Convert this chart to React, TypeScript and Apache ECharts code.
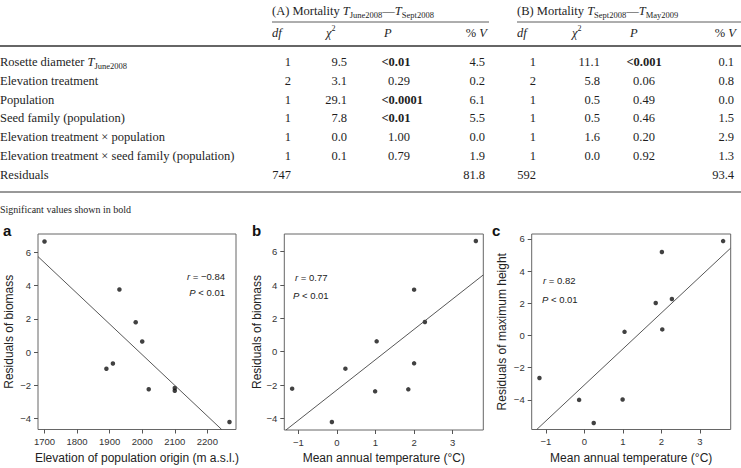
import React, { useEffect, useRef } from "react";
import * as echarts from "echarts";

// ---------- Table data ----------
const rowLabels = [
  "{n|Rosette diameter }{i|T}{s|June2008}",
  "{n|Elevation treatment}",
  "{n|Population}",
  "{n|Seed family (population)}",
  "{n|Elevation treatment × population}",
  "{n|Elevation treatment × seed family (population)}",
  "{n|Residuals}",
];
const dfA = ["1", "2", "1", "1", "1", "1", "747"];
const chiA = ["9.5", "3.1", "29.1", "7.8", "0.0", "0.1", ""];
const pA = ["<0.01", "0.29", "<0.0001", "<0.01", "1.00", "0.79", ""];
const vA = ["4.5", "0.2", "6.1", "5.5", "0.0", "1.9", "81.8"];
const dfB = ["1", "2", "1", "1", "1", "1", "592"];
const chiB = ["11.1", "5.8", "0.5", "0.5", "1.6", "0.0", ""];
const pB = ["<0.001", "0.06", "0.49", "0.46", "0.20", "0.92", ""];
const vB = ["0.1", "0.8", "0.0", "1.5", "2.9", "1.3", "93.4"];
const footnote = "Significant values shown in bold";

// ---------- Scatter data ----------
const elevation = [1700, 1930, 1980, 2000, 1890, 1910, 2020, 2100, 2100, 2268];
const biomassA = [6.66, 3.77, 1.8, 0.64, -1.0, -0.68, -2.23, -2.15, -2.32, -4.2];
const tempB = [3.6, 2.0, 2.28, 1.03, 0.22, 2.0, -1.16, 0.99, 1.85, -0.13];
const biomassB = [6.64, 3.72, 1.78, 0.62, -1.02, -0.7, -2.22, -2.38, -2.26, -4.22];
const tempC = [3.6, 2.01, 1.85, 2.27, 1.04, 2.02, -1.17, -0.14, 0.99, 0.24];
const heightC = [5.87, 5.19, 2.02, 2.27, 0.23, 0.38, -2.64, -4.0, -3.98, -5.44];
const fitA = [[1680, 5.75], [2244, -4.65]];
const fitB = [[-1.32, -4.7], [3.79, 4.6]];
const fitC = [[-1.24, -5.84], [3.79, 5.42]];
const ticksElev = [1700, 1800, 1900, 2000, 2100, 2200];
const ticksTemp = [-1, 0, 1, 2, 3];
const ticksBiomass = [-4, -2, 0, 2, 4, 6];
const ticksHeight = [-4, -2, 0, 2, 4, 6];

const SERIF = "'Liberation Serif', 'Times New Roman', serif";
const SANS = "'Liberation Sans', Arial, Helvetica, sans-serif";
const TXT = "#1e1e1e";
const FS = 12.5;

const richSerif = {
  n: { fontFamily: SERIF, fontSize: FS, fill: TXT },
  i: { fontFamily: SERIF, fontSize: FS, fill: TXT, fontStyle: "italic" },
  s: { fontFamily: SERIF, fontSize: 8.5, fill: TXT, padding: [7, 0, 0, 0] },
  sup: { fontFamily: SERIF, fontSize: 8, fill: TXT, padding: [0, 0, 9, 0] },
};

function tText(x: number, y: number, text: string, align = "left", bold = false, size = FS) {
  return {
    type: "text",
    x,
    y,
    silent: true,
    style: {
      text,
      fontFamily: SERIF,
      fontSize: size,
      fontWeight: bold ? "bold" : "normal",
      fill: TXT,
      align,
      verticalAlign: "middle",
    },
  };
}
function richText(x: number, y: number, text: string, align = "left") {
  return {
    type: "text",
    x,
    y,
    silent: true,
    style: { text, rich: richSerif, align, verticalAlign: "middle", fontFamily: SERIF, fontSize: FS, fill: TXT },
  };
}
function hLine(x1: number, x2: number, y: number, w: number) {
  return { type: "line", silent: true, shape: { x1, y1: y, x2, y2: y }, style: { stroke: "#333", lineWidth: w } };
}

function annot(x: number, y: number, letter: string, rest: string, align = "left") {
  return {
    type: "text",
    x,
    y,
    silent: true,
    style: {
      text: `{i|${letter}}{n|${rest}}`,
      align,
      verticalAlign: "middle",
      rich: {
        i: { fontFamily: SANS, fontSize: 9.5, fontStyle: "italic", fill: "#222" },
        n: { fontFamily: SANS, fontSize: 9.5, fill: "#222" },
      },
    },
  };
}

function panelLetter(x: number, y: number, t: string) {
  return {
    type: "text",
    x,
    y,
    silent: true,
    style: { text: t, fontFamily: SANS, fontSize: 15, fontWeight: "bold", fill: "#111", align: "left", verticalAlign: "middle" },
  };
}

const minus = (v: number) => String(v).replace("-", "\u2212");

function xAx(gridIndex: number, min: number, max: number, ticks: number[], name: string) {
  return {
    gridIndex,
    type: "value",
    min,
    max,
    axisLine: { show: false, onZero: false },
    splitLine: { show: false },
    axisTick: { show: true, length: 4, customValues: ticks, lineStyle: { color: "#555", width: 1 } },
    axisLabel: { customValues: ticks, margin: 7, fontSize: 9.5, color: "#333", fontFamily: SANS, formatter: minus },
    name,
    nameLocation: "middle",
    nameGap: 22,
    nameTextStyle: { fontSize: 12, color: "#222", fontFamily: SANS },
  };
}
function yAx(gridIndex: number, min: number, max: number, ticks: number[], name: string, gap: number) {
  return {
    gridIndex,
    type: "value",
    min,
    max,
    axisLine: { show: false, onZero: false },
    splitLine: { show: false },
    axisTick: { show: true, length: 4, customValues: ticks, lineStyle: { color: "#555", width: 1 } },
    axisLabel: { customValues: ticks, margin: 7, fontSize: 9.5, color: "#333", fontFamily: SANS, formatter: minus },
    name,
    nameLocation: "middle",
    nameGap: gap,
    nameRotate: 90,
    nameTextStyle: { fontSize: 12, color: "#222", fontFamily: SANS },
  };
}

function scatter(idx: number, xs: number[], ys: number[]) {
  return {
    type: "scatter",
    xAxisIndex: idx,
    yAxisIndex: idx,
    data: xs.map((x, i) => [x, ys[i]]),
    symbolSize: 4.5,
    itemStyle: { color: "#111" },
    silent: true,
  };
}
function fit(idx: number, pts: number[][]) {
  return {
    type: "line",
    xAxisIndex: idx,
    yAxisIndex: idx,
    data: pts,
    showSymbol: false,
    symbol: "none",
    lineStyle: { color: "#444", width: 0.9 },
    silent: true,
  };
}

export default function App() {
  const ref = useRef<HTMLDivElement>(null);
  useEffect(() => {
    if (!ref.current) return;
    const chart = echarts.init(ref.current, null, { renderer: "svg" });

    const rowY = [62, 80.8, 99.6, 118.4, 137.2, 156, 174.8];
    const g: any[] = [];
    // headers
    g.push(richText(272, 11, "{n|(A) Mortality }{i|T}{s|June2008}{n|—}{i|T}{s|Sept2008}"));
    g.push(richText(517, 11, "{n|(B) Mortality }{i|T}{s|Sept2008}{n|—}{i|T}{s|May2009}"));
    g.push(hLine(272, 489, 22, 0.8));
    g.push(hLine(517, 741, 22, 0.8));
    const colHead = (dfx: number, chix: number, px: number, vx: number) => {
      g.push(richText(dfx, 33, "{i|df}"));
      g.push(richText(chix, 33, "{i|χ}{sup|2}"));
      g.push(richText(px, 33, "{i|P}"));
      g.push(richText(vx, 33, "{n|% }{i|V}", "right"));
    };
    colHead(272, 326, 384, 487);
    colHead(517, 572, 630, 736);
    g.push(hLine(0, 741, 46, 1.6));
    rowY.forEach((y, r) => {
      g.push(richText(0, y, rowLabels[r]));
      g.push(tText(291, y, dfA[r], "right"));
      g.push(tText(347, y, chiA[r], "right"));
      const ba = pA[r].startsWith("<");
      g.push(tText(ba ? 381.5 : 388, y, pA[r], "left", ba));
      g.push(tText(485, y, vA[r], "right"));
      g.push(tText(536, y, dfB[r], "right"));
      g.push(tText(600, y, chiB[r], "right"));
      const bb = pB[r].startsWith("<");
      g.push(tText(bb ? 626.5 : 633, y, pB[r], "left", bb));
      g.push(tText(734, y, vB[r], "right"));
    });
    g.push(hLine(0, 741, 192, 1));
    g.push(tText(0, 209, footnote, "left", false, 10));

    // panel letters & annotations
    g.push(panelLetter(3, 230, "a"));
    g.push(panelLetter(252, 230, "b"));
    g.push(panelLetter(492, 230, "c"));
    g.push(annot(225, 276, "r", " = \u22120.84", "right"));
    g.push(annot(225, 292.5, "P", " < 0.01", "right"));
    g.push(annot(295, 277, "r", " = 0.77"));
    g.push(annot(293, 295, "P", " < 0.01"));
    g.push(annot(543, 280, "r", " = 0.82"));
    g.push(annot(542, 299, "P", " < 0.01"));

    const gridStyle = { show: true, borderColor: "#666", borderWidth: 1, backgroundColor: "transparent" };
    chart.setOption({
      animation: false,
      backgroundColor: "#fff",
      grid: [
        { left: 38, top: 234, width: 198, height: 195.5, ...gridStyle },
        { left: 284.3, top: 234, width: 199, height: 196, ...gridStyle },
        { left: 531.7, top: 234, width: 199, height: 195.5, ...gridStyle },
      ],
      xAxis: [
        xAx(0, 1680, 2288, ticksElev, "Elevation of population origin (m a.s.l.)"),
        xAx(1, -1.363, 3.793, ticksTemp, "Mean annual temperature (\u00B0C)"),
        xAx(2, -1.371, 3.797, ticksTemp, "Mean annual temperature (\u00B0C)"),
      ],
      yAxis: [
        yAx(0, -4.65, 7.11, ticksBiomass, "Residuals of biomass", 23),
        yAx(1, -4.7, 7.06, ticksBiomass, "Residuals of biomass", 21),
        yAx(2, -5.84, 6.31, ticksHeight, "Residuals of maximum height", 24),
      ],
      series: [
        fit(0, fitA),
        scatter(0, elevation, biomassA),
        fit(1, fitB),
        scatter(1, tempB, biomassB),
        fit(2, fitC),
        scatter(2, tempC, heightC),
      ],
      graphic: { elements: g },
    });
    return () => chart.dispose();
  }, []);
  return (
    <div
      ref={ref}
      style={{ position: "absolute", left: 0, top: 0, width: 741, height: 468, background: "#fff" }}
    />
  );
}
